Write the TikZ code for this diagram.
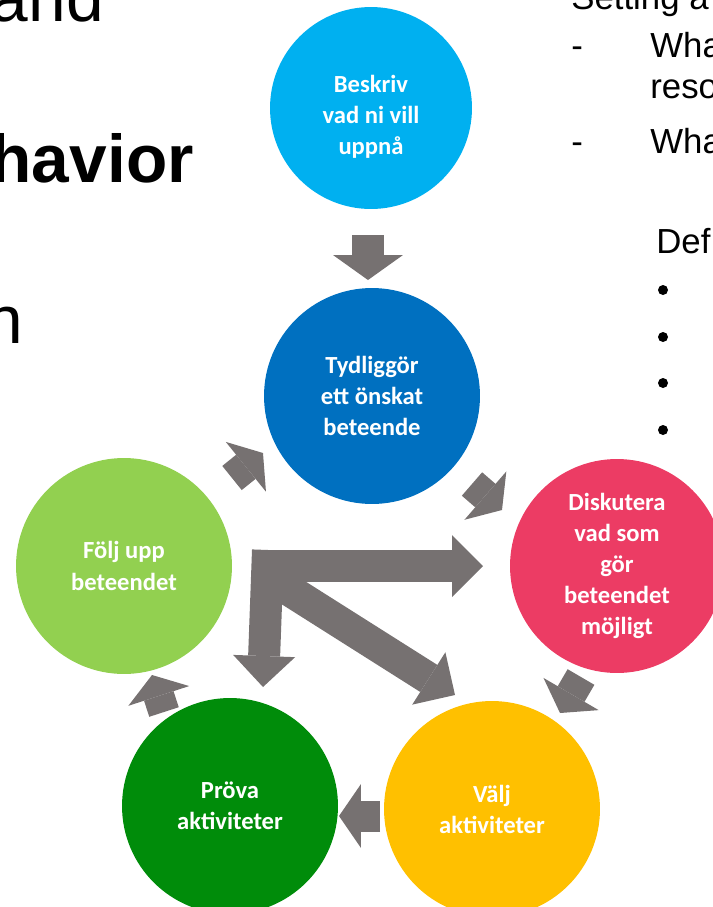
\documentclass[tikz,border=0pt]{standalone}
\usepackage{fontspec}
\setmainfont{Liberation Sans}
\newfontfamily\calibri{Carlito}
\usetikzlibrary{arrows.meta, calc}
\definecolor{myskyblue}{RGB}{0,176,240}
\definecolor{myblue}{RGB}{0,112,192}
\definecolor{mypink}{RGB}{236,60,100}
\definecolor{myyellow}{RGB}{255,192,0}
\definecolor{mygreen}{RGB}{0,140,10}
\definecolor{mylightgreen}{RGB}{146,208,80}
\definecolor{mygray}{RGB}{118,113,113}

\begin{document}
\begin{tikzpicture}[x=0.02cm, y=-0.02cm,
    stage/.style={circle, minimum size=4.32cm, inner sep=0pt, align=center, text=white,
                  font=\calibri\bfseries\fontsize{14pt}{17.7pt}\selectfont},
    blockarrow/.style={draw=mygray, line width=0.62cm, -{Triangle[width=1.28cm, length=0.44cm, line width=0pt]}},
    bigarrow/.style={draw=mygray, line width=0.64cm, -{Triangle[width=1.24cm, length=0.62cm, line width=0pt]}},
    slidetext/.style={inner sep=0pt, anchor=base east, font=\fontsize{38.5pt}{40pt}\selectfont},
    notetext/.style={inner sep=0pt, anchor=base west, font=\fontsize{19.8pt}{24pt}\selectfont},
    dot/.style={circle, fill=black, minimum size=0.2cm, inner sep=0pt}]
    \useasboundingbox (0,0) rectangle (713,907);
    \clip (0,0) rectangle (713,907);

    % Slide text behind the cycle
    \node[slidetext] (and) at (104,21) {and};
    \node[slidetext] (behavior) at (194,182) {\textbf{havior}};
    \node[slidetext] (lastword) at (23,343) {n};

    % Notes on the right
    \node[notetext] (setting) at (571,9) {Setting a};
    \node[notetext] (dash1) at (571,57) {-};
    \node[notetext] (what1) at (650,57) {Wha};
    \node[notetext] (reso) at (650,98) {reso};
    \node[notetext] (dash2) at (571,153) {-};
    \node[notetext] (what2) at (650,153) {Wha};
    \node[notetext] (def) at (656,253) {Def};
    \node[dot] (bul1) at (663,290) {};
    \node[dot] (bul2) at (663,337) {};
    \node[dot] (bul3) at (663,383) {};
    \node[dot] (bul4) at (663,430) {};

    % Stages
    \node[stage, fill=myskyblue, minimum size=4.04cm] (beskriv) at (371,108) {};
    \node[stage, anchor=center] (beskrivtext) at ($(beskriv)+(0,9)$) {Beskriv\\vad ni vill\\uppnå};
    \node[stage, fill=myblue] (tydlig) at (372,396) {Tydliggör\\ett önskat\\beteende};
    \node[stage, fill=mypink, minimum size=4.28cm] (disk) at (617,566) {Diskutera\\vad som\\gör\\beteendet\\möjligt};
    \node[stage, fill=myyellow] (valj) at (492,809) {Välj\\aktiviteter};
    \node[stage, fill=mygreen] (prova) at (230,806) {Pröva\\aktiviteter};
    \node[stage, fill=mylightgreen] (folj) at (124,566) {Följ upp\\beteendet};

    % Cycle arrows
    \draw[blockarrow, line width=0.66cm, -{Triangle[width=1.4cm, length=0.5cm, line width=0pt]}]
        ($(beskriv)+(-3,127)$) -- ($(tydlig)+(-4,-116)$);
    \draw[blockarrow] ($(tydlig)+(100,88)$) -- ($(disk)+(-115,-56)$);
    \draw[blockarrow] ($(disk)+(-36,111)$) -- ($(valj)+(68,-96)$);
    \draw[blockarrow] ($(valj)+(-112,7)$) -- ($(prova)+(109,10)$);
    \draw[blockarrow] ($(prova)+(-66,-94)$) -- ($(folj)+(28,109)$);
    \draw[blockarrow] ($(folj)+(108,-88)$) -- ($(tydlig)+(-109,57)$);

    % Shortcut arrows from the hub
    \coordinate (hub) at (268,566);
    \draw[bigarrow] ($(hub)+(-16,0)$) -- ($(disk)+(-134,0)$);
    \draw[bigarrow] ($(hub)+(0,-16)$) -- ($(prova)+(33,-119)$);
    \draw[bigarrow] ($(hub)+(10,17)$) -- ($(valj)+(-37,-114)$);
\end{tikzpicture}
\end{document}
